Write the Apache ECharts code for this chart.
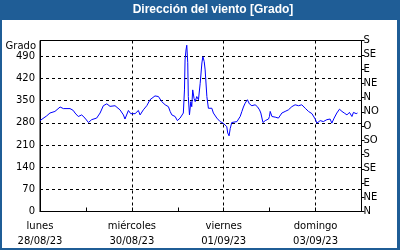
<!DOCTYPE html>
<html>
<head>
<meta charset="utf-8">
<script src="https://cdn.jsdelivr.net/npm/echarts@6/dist/echarts.min.js"></script>
<style>
html,body{margin:0;padding:0;background:#fff;}
#chart{width:400px;height:250px;}
</style>
</head>
<body>
<div id="chart"></div>
<script>
const titleText = 'Dirección del viento [Grado]';
const yAxisName = 'Grado';
const dayNames = ['lunes', 'miércoles', 'viernes', 'domingo'];
const dayDates = ['28/08/23', '30/08/23', '01/09/23', '03/09/23'];
const compass = ['N', 'NE', 'E', 'SE', 'S', 'SO', 'O', 'NO', 'N', 'NE', 'E', 'SE', 'S'];
// hours since 28/08/23 00:00
const hours = [0, 3.5, 5.2, 7.8, 10.5, 12.2, 15.7, 17.4, 18.3, 20.0, 21.8, 23.5, 25.3, 27.0, 29.6, 31.4, 33.1, 34.9, 36.6, 39.2,
  41.8, 43.6, 44.4, 46.2, 47.4, 49.7, 51.4, 52.3, 54.0, 55.8, 57.5, 60.1, 61.9, 63.6, 65.4, 67.1, 68.0, 68.9, 70.6, 71.8,
  73.2, 74.9, 75.5, 75.8, 76.3, 76.7, 77.2, 77.5, 78.1, 78.8, 79.3, 79.8, 80.5, 81.1, 81.9, 82.8, 83.7, 84.6, 85.1, 85.8,
  86.3, 87.2, 88.0, 88.9, 89.8, 90.6, 92.4, 94.1, 95.7, 96.7, 97.6, 98.1, 98.8, 99.4, 100.2, 101.1, 102.9, 103.7, 104.6, 105.5,
  106.3, 107.2, 107.7, 108.4, 109.4, 110.7, 112.4, 113.6, 114.7, 115.4, 116.5, 117.7, 118.5, 119.4, 119.9, 120.3, 121.2, 122.9, 124.6, 125.5,
  126.4, 128.1, 129.8, 131.6, 133.3, 135.1, 136.8, 138.6, 140.3, 142.1, 142.9, 143.8, 144.7, 146.4, 148.1, 149.9, 150.8, 151.6, 152.5, 153.7,
  155.1, 156.5, 157.8, 159.0, 160.4, 161.7, 163.0, 163.8, 165.2, 165.9];
const directions = [287, 302, 311, 316, 330, 325, 325, 319, 311, 300, 305, 295, 281, 290, 295, 311, 334, 340, 332, 334,
  321, 305, 292, 319, 309, 309, 319, 305, 321, 334, 353, 365, 363, 347, 337, 331, 316, 305, 300, 287,
  295, 311, 384, 479, 510, 525, 470, 363, 305, 347, 331, 384, 357, 347, 363, 353, 405, 469, 489, 474,
  447, 363, 326, 321, 326, 311, 295, 284, 279, 274, 268, 248, 239, 262, 281, 279, 284, 284, 300, 316,
  330, 342, 347, 353, 340, 334, 337, 331, 321, 311, 281, 287, 284, 292, 300, 316, 300, 298, 295, 298,
  311, 316, 321, 331, 337, 334, 337, 326, 316, 309, 303, 292, 279, 287, 284, 290, 284, 292, 279, 295,
  311, 323, 316, 311, 305, 313, 300, 313, 309, 311, 300];

const blue = '#1f5d96';
const font = 'DejaVu Sans';
const chart = echarts.init(document.getElementById('chart'), null, {renderer: 'canvas'});
const data = hours.map((h, i) => [h, directions[i]]);

chart.setOption({
  animation: false,
  backgroundColor: '#ffffff',
  graphic: [
    {type: 'rect', z: -10, shape: {x: 0, y: 0, width: 400, height: 250}, style: {fill: blue}},
    {type: 'rect', z: -9, shape: {x: 2, y: 20, width: 395, height: 228}, style: {fill: '#ffffff'}},
    {type: 'text', x: 213, y: 10, style: {text: titleText, fill: '#ffffff', font: 'bold 12px "Liberation Sans"', align: 'center', verticalAlign: 'middle'}},
    {type: 'text', x: 36, y: 46, style: {text: yAxisName, fill: '#000', font: '10px "' + font + '"', align: 'right', verticalAlign: 'middle'}}
  ],
  grid: {left: 40, right: 38.5, top: 40.5, bottom: 38.5, show: true, borderColor: '#000', borderWidth: 1, backgroundColor: 'transparent'},
  xAxis: {
    type: 'value', min: 0, max: 168, interval: 48,
    axisLine: {show: true, onZero: false, lineStyle: {color: '#000', width: 1}},
    axisTick: {show: true, inside: true, length: 4, lineStyle: {color: '#000'}},
    minorTick: {show: true, splitNumber: 2, length: 4, lineStyle: {color: '#000'}},
    splitLine: {show: true, lineStyle: {color: '#000', type: [3, 3], width: 1}},
    axisLabel: {
      color: '#000', fontFamily: font, fontSize: 10, lineHeight: 15, margin: 7,
      formatter: function (v) {
        const i = Math.round(v / 48);
        if (v % 48 !== 0 || i >= dayNames.length) return '';
        return dayNames[i] + '\n' + dayDates[i];
      }
    }
  },
  yAxis: [
    {
      type: 'value', min: 0, max: 540, interval: 70, position: 'left',
      axisLine: {show: true, lineStyle: {color: '#000', width: 1}},
      axisTick: {show: false},
      splitLine: {show: true, lineStyle: {color: '#000', type: [3, 3], width: 1}},
      axisLabel: {color: '#000', fontFamily: font, fontSize: 10, margin: 5,
        formatter: function (v) { return v % 70 === 0 ? String(v) : ''; }}
    },
    {
      type: 'value', min: 0, max: 540, interval: 45, position: 'right',
      axisLine: {show: true, lineStyle: {color: '#000', width: 1}},
      axisTick: {show: true, length: 3, lineStyle: {color: '#000'}},
      splitLine: {show: false},
      axisLabel: {color: '#000', fontFamily: font, fontSize: 10, margin: 2,
        formatter: function (v) { return compass[Math.round(v / 45)]; }}
    }
  ],
  series: [{
    type: 'line', data: data, yAxisIndex: 0, showSymbol: false, symbol: 'none',
    lineStyle: {color: '#0000ff', width: 1}, silent: true
  }]
});
</script>
</body>
</html>
